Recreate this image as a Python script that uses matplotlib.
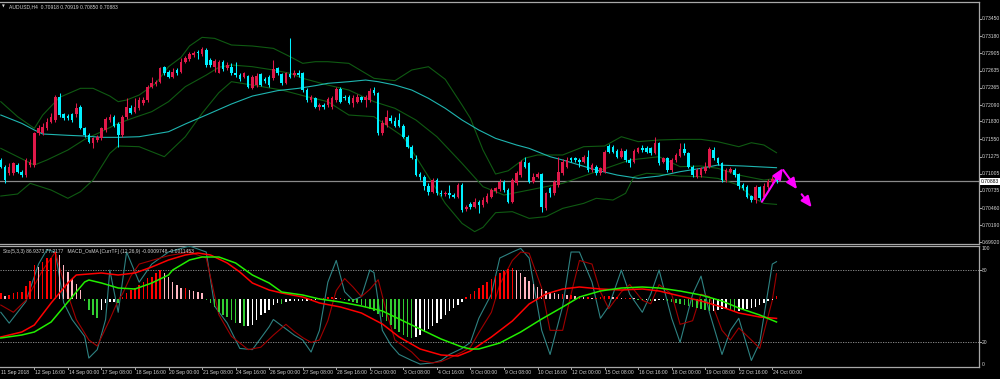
import matplotlib
matplotlib.use("Agg")
import matplotlib.pyplot as plt
import numpy as np

# ---------------- data ----------------
opens = [
.71221,.71115,.71010,.71010,.71141,.71036,.70983,.71141,.71141,.71642,
.71642,.71721,.71827,.71853,.72222,.71948,.71916,.71948,.71943,.72053,
.71721,.71616,.71484,.71537,.71563,.71695,.71853,.71906,.71790,.71616,
.71895,.72038,.71985,.72038,.72117,.72169,.72380,.72422,.72459,.72686,
.72617,.72538,.72644,.72617,.72775,.72812,.72881,.72933,.72891,.72960,
.72802,.72696,.72601,.72775,.72670,.72696,.72601,.72564,.72538,.72549,
.72354,.72406,.72580,.72496,.72538,.72512,.72670,.72580,.72443,.72580,
.72564,.72601,.72591,.72327,.72169,.72196,.72053,.72090,.72090,.72053,
.72169,.72338,.72222,.72222,.72117,.72143,.72211,.72169,.72169,.72327,
.72275,.71642,.71774,.71890,.71837,.71853,.71758,.71589,.71431,.71231,
.70999,.70957,.70815,.70720,.70904,.70704,.70683,.70704,.70667,.70641,
.70825,.70440,.70525,.70483,.70562,.70509,.70562,.70641,.70736,.70757,
.70878,.70746,.70562,.70852,.70983,.71194,.71168,.70878,.70957,.70999,
.70456,.70773,.70694,.70825,.71010,.71115,.71247,.71247,.71221,.71194,
.71273,.71062,.71115,.71010,.71036,.71442,.71431,.71363,.71273,.71363,
.71221,.71194,.71352,.71405,.71416,.71405,.71337,.71495,.71194,.71247,
.71062,.71220,.71284,.71389,.71336,.71115,.70957,.70983,.71046,.71115,
.71378,.71247,.71168,.70904,.71036,.71062,.70999,.70825,.70799,.70651,
.70588,.70788,.70641,.70788,.70878,.70918]
highs = [
.71247,.71141,.71168,.71194,.71168,.71062,.71247,.71231,.71669,.71774,
.71800,.71879,.71958,.72248,.72275,.71969,.71943,.71969,.72117,.72090,
.71748,.71642,.71589,.71616,.71748,.71906,.71943,.71932,.71827,.71932,
.72196,.72090,.72196,.72222,.72222,.72406,.72538,.72485,.72696,.72707,
.72644,.72670,.72670,.72828,.72865,.72933,.72949,.72960,.73012,.72986,
.72828,.72812,.72802,.72802,.72775,.72749,.72775,.72591,.72617,.72564,
.72564,.72591,.72601,.72538,.72564,.72802,.72696,.72601,.72617,.73144,
.72644,.72644,.72617,.72354,.72248,.72222,.72117,.72117,.72211,.72232,
.72380,.72380,.72248,.72248,.72248,.72264,.72232,.72248,.72354,.72380,
.72301,.71853,.72011,.71932,.71906,.71958,.71790,.71616,.71458,.71300,
.71036,.70983,.70852,.70931,.70931,.70746,.70736,.70825,.70694,.70852,
.70852,.70509,.70562,.70614,.70588,.70641,.70694,.70773,.70799,.70915,
.70904,.70773,.70931,.71052,.71221,.71273,.71194,.71010,.71036,.71020,
.70720,.70799,.70904,.71273,.71231,.71273,.71273,.71273,.71247,.71300,
.71379,.71168,.71141,.71115,.71379,.71474,.71458,.71389,.71405,.71389,
.71247,.71389,.71431,.71458,.71442,.71431,.71589,.71511,.71273,.71273,
.71247,.71326,.71484,.71484,.71352,.71141,.71089,.71115,.71194,.71431,
.71431,.71273,.71194,.71089,.71115,.71089,.71020,.70852,.70825,.70667,
.70825,.70809,.70852,.70915,.70967,.70919]
lows = [
.71089,.70852,.70983,.70983,.71010,.70957,.70957,.71115,.71115,.71616,
.71616,.71695,.71800,.71827,.71906,.71853,.71853,.71827,.71906,.71706,
.71589,.71484,.71405,.71511,.71537,.71669,.71827,.71737,.71431,.71589,
.71869,.71948,.71958,.72011,.72090,.72143,.72354,.72391,.72433,.72564,
.72512,.72512,.72564,.72591,.72749,.72791,.72854,.72812,.72865,.72696,
.72696,.72617,.72591,.72633,.72644,.72564,.72538,.72475,.72512,.72354,
.72338,.72380,.72391,.72433,.72380,.72485,.72564,.72406,.72422,.72512,
.72538,.72538,.72301,.72143,.72143,.72038,.72011,.72022,.72064,.72022,
.72143,.72117,.72169,.72106,.72053,.72117,.72143,.72064,.72143,.72248,
.71616,.71616,.71748,.71800,.71748,.71737,.71563,.71405,.71231,.70968,
.70904,.70746,.70667,.70704,.70667,.70651,.70651,.70614,.70614,.70614,
.70404,.70420,.70446,.70456,.70388,.70483,.70536,.70614,.70704,.70736,
.70720,.70536,.70536,.70825,.70957,.71089,.70852,.70852,.70931,.70404,
.70430,.70641,.70667,.70799,.70983,.71089,.71194,.71194,.71115,.71168,
.71036,.71036,.70983,.70983,.71010,.71326,.71326,.71247,.71247,.71194,
.71115,.71168,.71326,.71352,.71326,.71300,.71316,.71141,.71168,.71036,
.71036,.71194,.71263,.71299,.71089,.70957,.70931,.70957,.71020,.71089,
.71220,.71141,.70878,.70878,.71010,.70957,.70757,.70746,.70614,.70562,
.70536,.70588,.70614,.70757,.70852,.70850]
closes = [
.71115,.70904,.71115,.71168,.71036,.70983,.71221,.71194,.71642,.71721,
.71748,.71827,.71906,.72222,.71932,.71879,.71879,.71853,.72038,.71721,
.71616,.71511,.71563,.71589,.71721,.71864,.71906,.71758,.71616,.71895,
.72053,.71969,.72053,.72169,.72169,.72380,.72443,.72459,.72670,.72591,
.72538,.72617,.72591,.72775,.72828,.72891,.72918,.72907,.72970,.72723,
.72723,.72786,.72775,.72654,.72723,.72591,.72564,.72496,.72591,.72380,
.72538,.72549,.72406,.72470,.72406,.72654,.72591,.72433,.72591,.72538,
.72591,.72564,.72327,.72169,.72222,.72053,.72090,.72053,.72180,.72196,
.72338,.72143,.72196,.72127,.72196,.72222,.72169,.72211,.72317,.72275,
.71642,.71800,.71895,.71837,.71763,.71758,.71589,.71421,.71247,.70983,
.70957,.70815,.70720,.70904,.70694,.70678,.70704,.70667,.70641,.70825,
.70430,.70472,.70472,.70562,.70509,.70588,.70651,.70746,.70773,.70878,
.70746,.70562,.70904,.71020,.71194,.71115,.70878,.70957,.70999,.70472,
.70694,.70694,.70878,.71036,.71194,.71221,.71221,.71221,.71194,.71273,
.71062,.71141,.71010,.71089,.71352,.71352,.71352,.71273,.71363,.71221,
.71168,.71363,.71405,.71379,.71352,.71326,.71495,.71168,.71247,.71062,
.71220,.71299,.71389,.71326,.71115,.70983,.71062,.71089,.71115,.71389,
.71247,.71168,.70904,.71062,.71073,.70983,.70809,.70772,.70641,.70588,
.70788,.70614,.70809,.70894,.70918,.70883]

# Bollinger bands and moving average (read at sample bars)
bb_up_idx = [0,4,8,10,14,19,22,26,28,30,33,37,40,43,45,48,51,55,60,65,69,72,75,78,83,89,94,98,102,106,110,112,115,118,121,125,128,131,134,139,144,148,152,157,162,167,171,176,179,182,185]
bb_up = [.72143,.71906,.71721,.71932,.72211,.72354,.72354,.72232,.72143,.72169,.72248,.72433,.72696,.72844,.73023,.73160,.73144,.73039,.73023,.72986,.72854,.72749,.72775,.72775,.72749,.72512,.72475,.72644,.72696,.72496,.72090,.71879,.71379,.70999,.71050,.71250,.71300,.71300,.71300,.71431,.71442,.71589,.71511,.71537,.71547,.71547,.71510,.71431,.71494,.71458,.71336]
bb_mid_idx = [0,4,8,11,16,20,24,28,32,36,40,44,49,52,55,60,65,69,72,75,78,83,89,94,99,104,110,115,120,126,134,142,150,157,162,167,171,176,182,185]
bb_mid = [.71405,.71273,.71141,.71221,.71379,.71547,.71668,.71800,.71895,.71985,.72143,.72380,.72564,.72686,.72723,.72696,.72644,.72591,.72512,.72459,.72406,.72327,.72143,.72038,.71853,.71589,.71168,.70799,.70667,.70746,.70852,.71036,.71221,.71273,.71115,.71126,.71089,.70983,.70904,.70930]
bb_lo_idx = [0,4,7,12,16,19,22,26,28,33,36,39,44,48,52,55,60,67,73,78,83,89,96,102,106,110,113,115,118,122,126,130,134,139,142,146,149,151,154,157,162,167,171,176,179,182,185]
bb_lo = [.70651,.70683,.70852,.70746,.70615,.70720,.70904,.71326,.71442,.71431,.71352,.71273,.71589,.71958,.72285,.72459,.72406,.72327,.72222,.72143,.71932,.71906,.71589,.70957,.70535,.70219,.70088,.70156,.70388,.70404,.70298,.70325,.70456,.70535,.70615,.70588,.70694,.70957,.71010,.70999,.70967,.70957,.70930,.70825,.70641,.70535,.70519]
ma_idx = [0,5,8,10,16,20,24,28,33,40,44,49,55,60,66,71,75,78,83,87,90,94,98,102,106,110,114,118,123,126,131,134,138,142,147,152,157,162,167,171,177,185]
ma = [.71932,.71800,.71695,.71632,.71611,.71600,.71579,.71579,.71589,.71668,.71790,.71932,.72106,.72232,.72317,.72354,.72396,.72433,.72459,.72485,.72459,.72406,.72327,.72196,.72038,.71853,.71695,.71563,.71458,.71405,.71273,.71221,.71141,.71062,.70983,.70931,.70967,.71036,.71089,.71141,.71126,.71099]

current_price = 0.70883
price_ticks = [0.73450,0.73180,0.72905,0.72635,0.72365,0.72090,0.71830,0.71550,0.71275,0.71005,0.70735,0.70460,0.70190,0.69920]

# projection arrows (bar index, price)
arrow_x = [[181.5, 186.5], [186.6, 189.9], [191.0, 193.4]]
arrow_y = [[0.70561, 0.71090], [0.71063, 0.70758], [0.70679, 0.70473]]

# Stochastic (5,3,3)
sto_idx = [0,2,6,9,11,13,15,17,20,21,23,25,26,28,30,33,36,40,45,49,51,54,57,60,64,65,70,72,74,76,78,80,82,84,86,88,89,91,93,95,98,100,103,105,107,110,112,114,117,119,122,124,126,129,131,134,136,138,141,143,145,148,150,153,155,157,160,162,165,167,169,172,174,176,179,181,184,185]
sto_main = [45,36,54,85,97,95,53,39,25,7,14,39,80,45,95,70,85,95,100,95,50,36,15,14,33,39,26,22,12,30,70,88,62,55,58,80,78,30,18,10,5,2,3,5,10,15,20,40,60,90,95,98,90,30,10,50,95,95,70,40,50,80,60,45,60,80,40,20,60,75,45,10,30,40,5,20,85,87]
sig_idx = [0,3,6,10,13,15,18,21,23,26,28,29,31,33,36,40,45,49,52,55,59,62,65,68,70,72,74,76,78,80,82,84,86,88,90,92,94,98,100,103,105,107,110,112,114,117,119,122,124,126,129,131,134,136,138,141,143,145,148,150,153,155,157,160,162,165,167,169,172,174,176,179,181,184,185]
sto_signal = [51,45,55,80,95,70,39,22,17,39,55,60,75,85,88,92,95,90,43,25,14,16,26,35,29,24,20,22,38,63,73,66,58,64,72,45,22,12,5,3,4,7,12,16,28,45,68,88,95,94,65,30,30,60,88,85,62,48,62,68,55,52,68,60,35,38,60,58,30,22,32,22,15,55,77]

# MACD main / signal (pips) and OsMA histogram (scaled pips)
macd_idx = [0,5,8,12,16,18,24,28,32,36,40,44,47,50,54,57,60,64,67,72,76,81,86,91,95,100,105,109,112,117,122,126,130,134,138,143,148,153,157,162,167,172,176,181,185]
macd_main = [-19,-16.5,-13,-2,8,12,13,12,13,16,19.5,22,23,22,18,13.5,8,4.5,3,1,-2,-4,-7,-12.5,-19,-25,-28,-28.5,-26,-19,-11,-2.5,2.5,5,6,5,4.5,5,4,1.5,-1,-4,-7,-9,-9.7]
macdsig_idx = [0,5,8,12,16,20,21,24,28,32,36,40,41,45,48,52,56,60,64,67,72,76,81,86,91,95,100,105,110,112,114,119,124,129,134,138,143,148,153,157,162,167,172,176,181,185]
macd_signal = [-19.5,-18,-16.5,-11.5,-1.5,8.5,9.5,8,5.5,5,8,12,14.5,19.5,21,21,18,12,8,3.5,2,0,-1.5,-3.5,-6,-10,-15,-20,-24,-25,-25,-22,-16.5,-10,-4,1,4,5.5,6,5.5,4,2,-1,-4.5,-8,-11.5]
osma = [
3,1.5,2,3,3.5,3.5,6.5,9,17,16,
18.5,20.5,20.5,23.5,22,17,13.5,10,7.5,4.5,
-1,-5.5,-8,-9.5,-5.5,-2,-1.5,-1.5,-2,1,
3,4.5,5.5,7,8.5,10.5,11,13,14.5,13,
11,8.5,7,5.5,5.5,4.5,4,3.5,3,-0.5,
-2,-4,-6.5,-8,-9,-10.5,-12,-12,-13.5,-13.5,
-13,-10.5,-8,-7,-5.5,-3,-2,-2.5,-1.5,-1,
-1,-1,-1,-1,-0.5,-0.5,0.3,0.5,1,1,
0.5,0.5,-0.5,-1,-1.5,-2,-3,-4,-5,-6,
-7.5,-9,-11,-13,-15,-16.5,-18,-19,-19.5,-19,
-18,-16.5,-15,-13.5,-12,-10,-8,-6,-4.5,-3,
-1.5,1,2.5,4,5.5,7,8.5,10,11.5,13,
14,15,15.5,14.5,13,11,9,7.5,6,5,
4,3.5,3,2.5,2.5,2,2,1.5,1.5,1,
1,0.5,0.5,1,1.5,1.5,1,1,0.5,0.5,
0.5,0.3,-0.3,-0.5,-0.5,-1,-1,-0.5,-0.5,-1,
-1.5,-2,-2.5,-3,-3.5,-4,-4.5,-5,-5.5,-6,
-6,-5.5,-5,-5,-5.5,-6,-6,-5.5,-5,-4.5,
-4,-3,-2,-1,-0.5,1.5]

x_labels = ["11 Sep 2018","12 Sep 16:00","14 Sep 00:00","17 Sep 08:00","18 Sep 16:00","20 Sep 00:00",
            "21 Sep 08:00","24 Sep 16:00","26 Sep 00:00","27 Sep 08:00","28 Sep 16:00","2 Oct 00:00",
            "3 Oct 08:00","4 Oct 16:00","8 Oct 00:00","9 Oct 08:00","10 Oct 16:00","12 Oct 00:00",
            "15 Oct 08:00","16 Oct 16:00","18 Oct 00:00","19 Oct 08:00","22 Oct 16:00","24 Oct 00:00"]
x_label_bars = list(range(0, 185, 8))

# ---------------- style ----------------
plt.rcParams["font.family"] = ["Liberation Sans", "DejaVu Sans"]
FS = 3.6
TXT = "#d4d4d4"
GRID = "#a8a8a8"
UP_C = "#e0194a"
DN_C = "#00f0ff"
BAND_C = "#0f5a12"
MA_C = "#1fb5b0"

W, H = 1000, 379
fig = plt.figure(figsize=(W/100, H/100), dpi=100, facecolor="black")

def frac_rect(x0, y0, x1, y1):
    return [x0/W, 1 - y1/H, (x1-x0)/W, (y1-y0)/H]

RIGHT = 978.5
ax = fig.add_axes(frac_rect(0, 2, RIGHT, 244))
axs = fig.add_axes(frac_rect(0, 246, RIGHT, 366.5))

px_per_bar = 4.193
xmin = -0.8/px_per_bar
xmax = (RIGHT-0.8)/px_per_bar
p_per_px = 0.0001581
ymax = 0.73450 + (19-2)*p_per_px
ymin = 0.73450 - (244-19)*p_per_px

for a in (ax, axs):
    a.set_facecolor("black")
    a.set_xlim(xmin, xmax)
    a.spines["left"].set_visible(False)
    for s in ("top", "bottom", "right"):
        a.spines[s].set_color(GRID)
        a.spines[s].set_linewidth(0.9)
    a.tick_params(left=False, labelleft=False, bottom=False, labelbottom=False)

ax.set_ylim(ymin, ymax)

n = len(closes)
idx = np.arange(n)
o = np.array(opens); h = np.array(highs); l = np.array(lows); c = np.array(closes)
up = c >= o
cols = np.where(up, UP_C, DN_C)

ax.vlines(idx, l, h, colors=cols, linewidth=0.75, zorder=3)
body_lo = np.minimum(o, c)
body_h = np.maximum(np.abs(c - o), 0.00012)
ax.bar(idx, body_h, bottom=body_lo, width=0.62, color=cols, linewidth=0, zorder=4)

ax.plot(bb_up_idx, bb_up, color=BAND_C, lw=0.8, zorder=2)
ax.plot(bb_mid_idx, bb_mid, color=BAND_C, lw=0.8, zorder=2)
ax.plot(bb_lo_idx, bb_lo, color=BAND_C, lw=0.8, zorder=2)
ax.plot(ma_idx, ma, color=MA_C, lw=0.8, zorder=2)

ax.axhline(current_price, color="#8a8a8a", lw=0.9, zorder=1)

for ax_, ay_ in zip(arrow_x, arrow_y):
    ax.annotate("", xy=(ax_[1], ay_[1]), xytext=(ax_[0], ay_[0]),
                arrowprops=dict(arrowstyle="-|>,head_length=0.8,head_width=0.35",
                                color="#ff00ff", lw=1.5, mutation_scale=8,
                                shrinkA=0, shrinkB=0), zorder=6)

# right price scale
for p in price_ticks:
    ax.annotate(f"{p:.5f}", xy=(1.0, p), xycoords=("axes fraction", "data"),
                xytext=(2.6, 0), textcoords="offset points", fontsize=FS, color=TXT,
                va="center", ha="left", annotation_clip=False)
    ax.plot([1.0, 1.0 + 2.5/RIGHT], [p, p], transform=ax.get_yaxis_transform(),
            color=GRID, lw=0.7, clip_on=False)
ax.annotate(f"{current_price:.5f}", xy=(1.0, current_price), xycoords=("axes fraction", "data"),
            xytext=(1.6, 0), textcoords="offset points", fontsize=FS, color="black",
            va="center", ha="left", annotation_clip=False,
            bbox=dict(boxstyle="square,pad=0.2", fc="white", ec="white", lw=0))

ax.text(9/RIGHT, 1 - 4.5/242, "AUDUSD,H4  0.70918 0.70919 0.70850 0.70883",
        transform=ax.transAxes, fontsize=FS, color=TXT, va="center", ha="left")
ax.text(2/RIGHT, 1 - 4.5/242, "\u25BC", transform=ax.transAxes, fontsize=2.6,
        color=TXT, va="center", ha="left", family="DejaVu Sans")

# ---------------- sub window ----------------
axs.set_ylim(0, 100)
for lvl in (80, 20):
    axs.axhline(lvl, color="#9a9a9a", lw=0.6, ls=(0, (1.5, 1.5)), zorder=1)

axm = axs.twinx()
axm.set_xlim(xmin, xmax)
axm.set_ylim((299-366.5)*0.5, (299-246)*0.5)
axm.axis("off")

hist_cols = []
prev = 0.0
for v in osma:
    if v >= 0:
        hist_cols.append("#ff0000" if v >= prev else "#ffb6c1")
    else:
        hist_cols.append("#32cd32" if v < prev else "#ffffff")
    prev = v
axm.bar(idx, osma, width=0.36, color=hist_cols, linewidth=0, zorder=2)

axs.plot(sto_idx, sto_main, color="#2e8282", lw=0.8, zorder=3)
axs.plot(sig_idx, sto_signal, color="#a00000", lw=0.8, zorder=3)
axm.plot(macd_idx, macd_main, color="#ff0000", lw=1.1, zorder=4)
axm.plot(macdsig_idx, macd_signal, color="#22ee00", lw=1.1, zorder=4)

for lvl, va in ((100, "top"), (80, "center"), (20, "center"), (0, "bottom")):
    axs.annotate(str(lvl), xy=(1.0, lvl), xycoords=("axes fraction", "data"),
                 xytext=(2.6, 0), textcoords="offset points", fontsize=FS, color=TXT,
                 va=va, ha="left", annotation_clip=False)
for lvl in (80, 20):
    axs.plot([1.0, 1.0 + 2.5/RIGHT], [lvl, lvl], transform=axs.get_yaxis_transform(),
             color=GRID, lw=0.7, clip_on=False)

axs.text(3/RIGHT, 1 - 5/120.5,
         "Sto(5,3,3) 86.9373 77.2177   MACD_OsMA [CurrTF] (12,26,9) -0.0009748 -0.0011453",
         transform=axs.transAxes, fontsize=FS, color=TXT, va="center", ha="left", zorder=10)

# x axis labels
for b, lab in zip(x_label_bars, x_labels):
    axs.annotate(lab, xy=(b, 0), xycoords=("data", "axes fraction"),
                 xytext=(0.5, -4.0), textcoords="offset points", fontsize=FS, color=TXT,
                 va="center", ha="left", annotation_clip=False)
    if b > 0:
        axs.plot([b, b], [0, -2.2/120.5], transform=axs.get_xaxis_transform(),
                 color=GRID, lw=0.7, clip_on=False)

fig.savefig("out.png", dpi=100, facecolor="black")
